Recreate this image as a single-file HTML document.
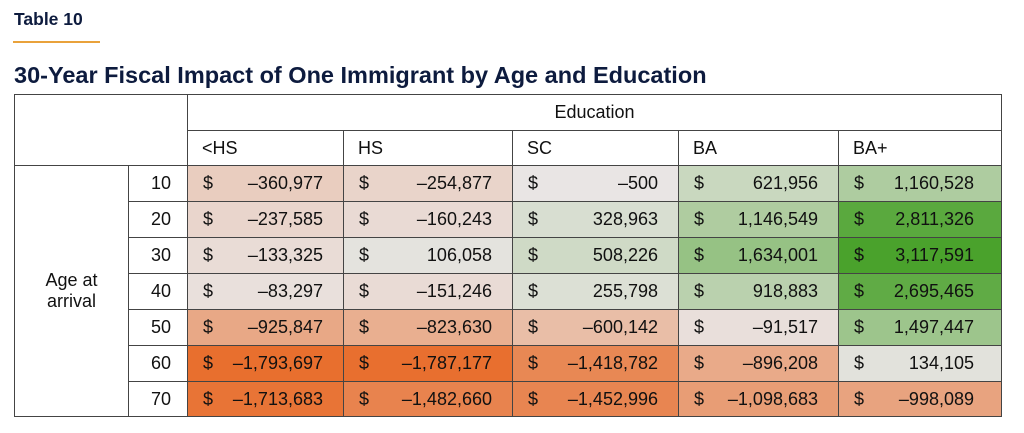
<!DOCTYPE html>
<html><head><meta charset="utf-8"><style>
body{margin:0;width:1024px;height:433px;background:#fff;font-family:"Liberation Sans",sans-serif;color:#111;overflow:hidden;position:relative}
.lbl{position:absolute;left:14px;top:9px;font-size:17.5px;font-weight:bold;color:#0d1b3e}
.rule{position:absolute;left:13px;top:41px;width:87px;height:2px;background:#e9a23b}
.title{position:absolute;left:14px;top:62px;font-size:23.5px;font-weight:bold;color:#0d1b3e}
table{position:absolute;left:14px;top:94px;border-collapse:collapse;font-size:18px}
td{border:1px solid #444;padding:0;height:35px;box-sizing:border-box}
.val{position:relative}
.val .d{position:absolute;left:15px;top:7px}
.val .n{position:absolute;right:20px;top:7px}
.val.last .n{right:27px}
.age{text-align:right;padding-right:16px}
.hd{padding-left:14px}
</style></head><body>
<div class="lbl">Table 10</div>
<div class="rule"></div>
<div class="title">30-Year Fiscal Impact of One Immigrant by Age and Education</div>
<table id="t">
<colgroup><col style="width:114px"><col style="width:59px"><col style="width:156px"><col style="width:169px"><col style="width:166px"><col style="width:160px"><col style="width:163px"></colgroup>
<tr style="height:36px"><td colspan="2" rowspan="2"></td><td colspan="5" style="text-align:center">Education</td></tr>
<tr id="hrow" style="height:35px"></tr>
</table>
<script>
const categories=["<HS","HS","SC","BA","BA+"];
const ages=["10","20","30","40","50","60","70"];
const s10=[-360977,-254877,-500,621956,1160528];
const s20=[-237585,-160243,328963,1146549,2811326];
const s30=[-133325,106058,508226,1634001,3117591];
const s40=[-83297,-151246,255798,918883,2695465];
const s50=[-925847,-823630,-600142,-91517,1497447];
const s60=[-1793697,-1787177,-1418782,-896208,134105];
const s70=[-1713683,-1482660,-1452996,-1098683,-998089];
const series=[s10,s20,s30,s40,s50,s60,s70];
const t=document.getElementById('t'),hr=document.getElementById('hrow');
categories.forEach(c=>{const td=document.createElement('td');td.className='hd';td.textContent=c;


hr.appendChild(td);});
const neu=[233,229,228],neg=[232,111,46],pos=[74,162,44];
const mn=Math.min(...series.flat()),mx=Math.max(...series.flat());
function col(v){const e=v<0?neg:pos,k=v<0?v/mn:v/mx;return 'rgb('+neu.map((a,i)=>Math.round(a+(e[i]-a)*k)).join(',')+')';}
function fmt(v){return (v<0?'\u2013':'')+Math.abs(v).toLocaleString('en-US');}
ages.forEach((a,r)=>{const tr=document.createElement('tr');tr.style.height=(r==6?35:36)+'px';
if(r==0){const td=document.createElement('td');td.rowSpan=7;td.style.textAlign='center';td.innerHTML='Age at<br>arrival';


tr.appendChild(td);}
const ta=document.createElement('td');ta.className='age';ta.textContent=a;


tr.appendChild(ta);
series[r].forEach((v,c)=>{const td=document.createElement('td');td.className='val'+(c==4?' last':'');td.style.background=col(v);
td.innerHTML='<span class="d">$</span><span class="n">'+fmt(v)+'</span>';


tr.appendChild(td);});
t.appendChild(tr);});
</script>
</body></html>
